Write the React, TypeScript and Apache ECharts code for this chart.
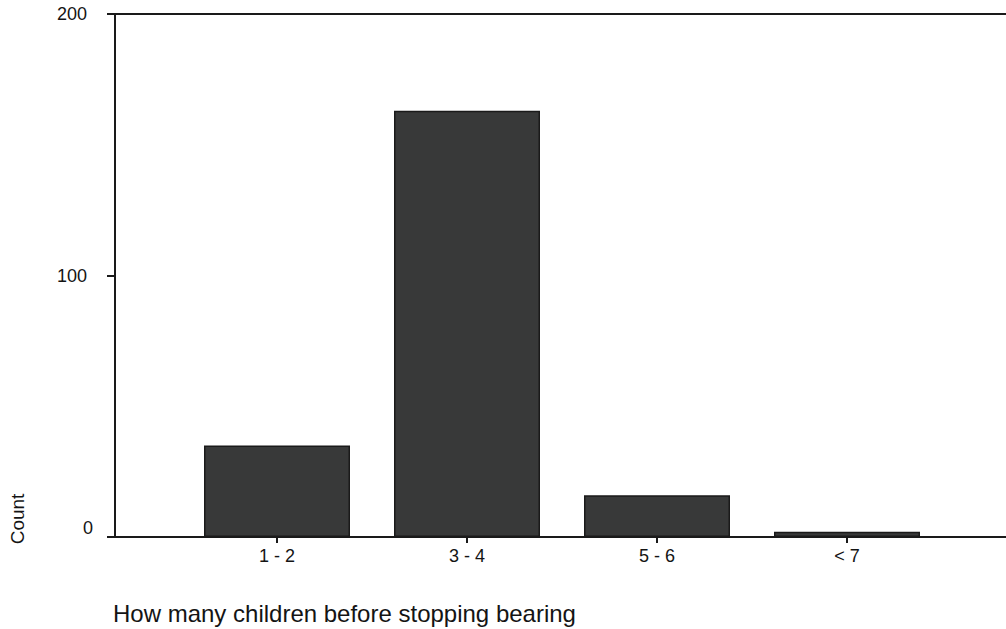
import React, { useEffect, useRef } from "react";
import * as echarts from "echarts";

const categories = ["1 - 2", "3 - 4", "5 - 6", "< 7"];
const counts = [35, 163, 16, 2];
const yTicks = [0, 100, 200];
const xTitle = "How many children before stopping bearing";
const yTitle = "Count";

const FONT = "'Liberation Sans', Arial, Helvetica, sans-serif";
const AXIS = "#1a1a1a";
const TEXT = "#141414";

export default function App() {
  const ref = useRef<HTMLDivElement>(null);
  useEffect(() => {
    if (!ref.current) return;
    const chart = echarts.init(ref.current, undefined, { renderer: "svg" });
    const gridTop = 14;
    const gridBottom = 92;
    chart.setOption({
      animation: false,
      backgroundColor: "#ffffff",
      textStyle: { fontFamily: FONT },
      grid: [
        { left: 115, right: 0, top: gridTop, bottom: gridBottom },
        { left: 182, right: 64, top: gridTop, bottom: gridBottom },
      ],
      xAxis: [
        {
          gridIndex: 0,
          type: "value",
          min: 0,
          max: 1,
          position: "bottom",
          axisLine: { show: true, onZero: false, lineStyle: { color: AXIS, width: 2 } },
          axisTick: { show: false },
          axisLabel: { show: false },
          splitLine: { show: false },
        },
        {
          gridIndex: 0,
          type: "value",
          min: 0,
          max: 1,
          position: "top",
          axisLine: { show: true, onZero: false, lineStyle: { color: AXIS, width: 2 } },
          axisTick: { show: false },
          axisLabel: { show: false },
          splitLine: { show: false },
        },
        {
          gridIndex: 1,
          type: "category",
          data: categories,
          axisLine: { show: false },
          axisTick: {
            show: true,
            alignWithLabel: true,
            length: 6,
            lineStyle: { color: AXIS, width: 2 },
          },
          axisLabel: {
            color: TEXT,
            fontSize: 18,
            fontFamily: FONT,
            margin: 10,
          },
          splitLine: { show: false },
        },
      ],
      yAxis: [
        {
          gridIndex: 0,
          type: "value",
          min: yTicks[0],
          max: yTicks[yTicks.length - 1],
          interval: yTicks[1] - yTicks[0],
          axisLine: { show: true, lineStyle: { color: AXIS, width: 2 } },
          axisTick: { show: true, length: 8, lineStyle: { color: AXIS, width: 2 } },
          axisLabel: {
            margin: 22,
            color: TEXT,
            fontSize: 18,
            fontFamily: FONT,
            formatter: (v: number) => (v === 0 ? "{z|0}" : "{a|" + v + "}"),
            rich: {
              a: { fontSize: 18, fontFamily: FONT, color: TEXT, padding: [0, 6, 0, 0] },
              z: { fontSize: 18, fontFamily: FONT, color: TEXT, padding: [0, 0, 18, 0] },
            },
          },
          splitLine: { show: false },
        },
        {
          gridIndex: 1,
          type: "value",
          min: yTicks[0],
          max: yTicks[yTicks.length - 1],
          show: false,
          splitLine: { show: false },
        },
      ],
      series: [
        {
          type: "bar",
          xAxisIndex: 2,
          yAxisIndex: 1,
          data: counts,
          barWidth: 146,
          itemStyle: { color: "#383939", borderColor: "#1a1a1a", borderWidth: 1.5 },
        },
      ],
      graphic: [
        {
          type: "text",
          x: 113,
          y: 613,
          style: {
            text: xTitle,
            fontSize: 24,
            fontFamily: FONT,
            fill: TEXT,
            textAlign: "left",
            textVerticalAlign: "middle",
          },
        },
        {
          type: "text",
          x: 17,
          y: 519,
          rotation: Math.PI / 2,
          style: {
            text: yTitle,
            fontSize: 19,
            fontFamily: FONT,
            fill: TEXT,
            textAlign: "center",
            textVerticalAlign: "middle",
          },
        },
      ],
    });
    return () => chart.dispose();
  }, []);
  return (
    <div
      ref={ref}
      style={{ position: "fixed", left: 0, top: 0, width: 1006, height: 629, background: "#fff" }}
    />
  );
}
